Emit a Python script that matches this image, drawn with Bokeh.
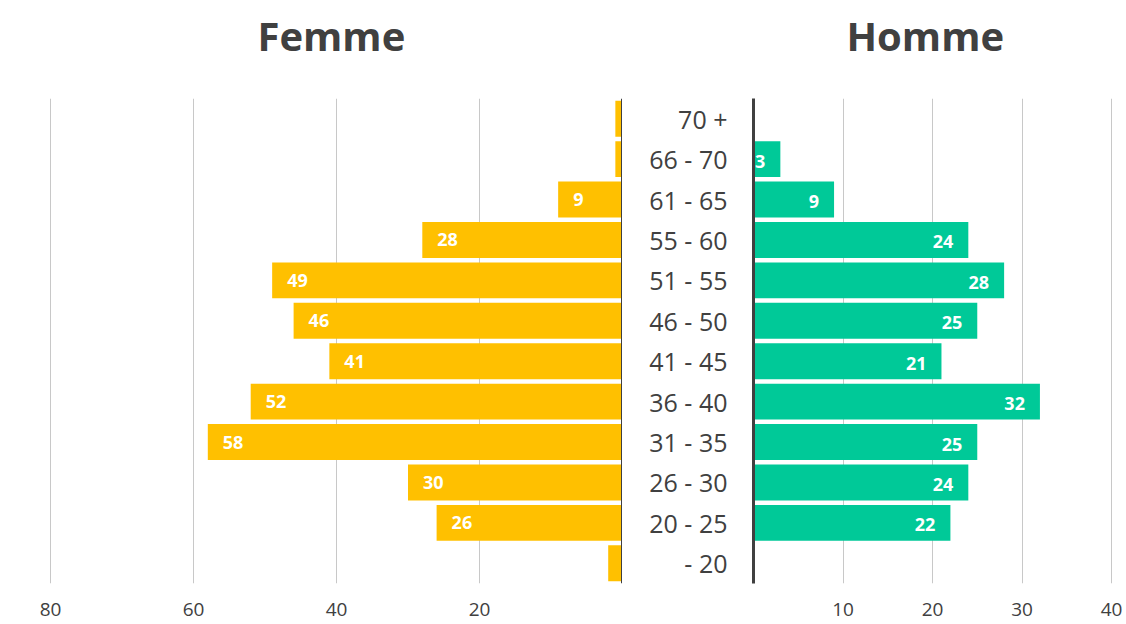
from bokeh.plotting import figure
from bokeh.models import FactorRange, Range1d, FixedTicker, Span, ColumnDataSource, Title
from bokeh.layouts import row
from bokeh.core.properties import value
from bokeh.embed import file_html
from bokeh.resources import INLINE

# Data (top to bottom as in the chart)
categories = ["70 +", "66 - 70", "61 - 65", "55 - 60", "51 - 55", "46 - 50",
              "41 - 45", "36 - 40", "31 - 35", "26 - 30", "20 - 25", "- 20"]
femme = [1, 1, 9, 28, 49, 46, 41, 52, 58, 30, 26, 2]
homme = [0, 3, 9, 24, 28, 25, 21, 32, 25, 24, 22, 0]
femme_ticks = [20, 40, 60, 80]
homme_ticks = [10, 20, 30, 40]

FEMME_COLOR = "#FFC000"
HOMME_COLOR = "#00C998"
TEXT_COLOR = "#404040"
FONT = "Open Sans"

factors = list(reversed(categories))

def lbl(vals):
    return [str(v) if v >= 3 else "" for v in vals]

src_f = ColumnDataSource(dict(cat=categories, val=femme, lab=lbl(femme)))
src_h = ColumnDataSource(dict(cat=categories, val=homme, lab=lbl(homme)))

H = 624

# Left figure (Femme)
pl = figure(width=622, height=H, output_backend="svg", toolbar_location=None,
            y_range=FactorRange(*factors, range_padding=0),
            x_range=Range1d(81.4, 0), y_axis_location=None,
            min_border_left=40, min_border_right=0, min_border_top=98,
            min_border_bottom=41, title="Femme")
pl.hbar(y="cat", left=0, right="val", height=0.89, source=src_f,
        fill_color=FEMME_COLOR, line_color=None)
pl.text(x="val", y="cat", text="lab", source=src_f, text_align="left",
        text_baseline="middle", x_offset=15, text_color="white",
        text_font=value(FONT), text_font_style="bold", text_font_size="18px")
pl.add_layout(Span(location=0, dimension="height", line_color=TEXT_COLOR, line_width=3))

# Right figure (Homme)
pr = figure(width=502, height=H, output_backend="svg", toolbar_location=None,
            y_range=pl.y_range, x_range=Range1d(0, 40.22),
            y_axis_location="left",
            min_border_left=131, min_border_right=11, min_border_top=98,
            min_border_bottom=41, title="Homme")
pr.hbar(y="cat", left=0, right="val", height=0.89, source=src_h,
        fill_color=HOMME_COLOR, line_color=None)
pr.text(x="val", y="cat", text="lab", source=src_h, text_align="right",
        text_baseline="middle", x_offset=-15, y_offset=2, text_color="white",
        text_font=value(FONT), text_font_style="bold", text_font_size="18px")

for p, ticks in ((pl, femme_ticks), (pr, homme_ticks)):
    p.outline_line_color = None
    p.ygrid.grid_line_color = None
    p.xgrid.grid_line_color = "#C8C8C8"
    p.xgrid.grid_line_width = 1
    p.xaxis.ticker = FixedTicker(ticks=ticks)
    p.xaxis.axis_line_color = None
    p.xaxis.major_tick_line_color = None
    p.xaxis.minor_tick_line_color = None
    p.xaxis.major_tick_out = 0
    p.xaxis.major_tick_in = 0
    p.xaxis.major_label_standoff = 19
    p.xaxis.major_label_text_font = FONT
    p.xaxis.major_label_text_font_size = "19px"
    p.xaxis.major_label_text_color = "#404040"
    p.title.text_font = FONT
    p.title.text_font_size = "40px"
    p.title.text_font_style = "bold"
    p.title.text_color = TEXT_COLOR
    p.title.standoff = 10
    # blank spacer between the title and the plot area
    p.add_layout(Title(text=" ", text_font_size="14px", standoff=13), "above")

pl.title.align = "left"
pl.title.offset = 217
pr.title.align = "left"
pr.title.offset = 93

pr.yaxis.axis_line_color = TEXT_COLOR
pr.yaxis.axis_line_width = 3
pr.yaxis.major_tick_line_color = None
pr.yaxis.minor_tick_line_color = None
pr.yaxis.major_tick_out = 0
pr.yaxis.major_tick_in = 0
pr.yaxis.major_label_standoff = 26
pr.yaxis.major_label_text_font = FONT
pr.yaxis.major_label_text_font_size = "25px"
pr.yaxis.major_label_text_color = TEXT_COLOR

layout = row(pl, pr, spacing=0)
open("out.html", "w").write(file_html(layout, INLINE))
